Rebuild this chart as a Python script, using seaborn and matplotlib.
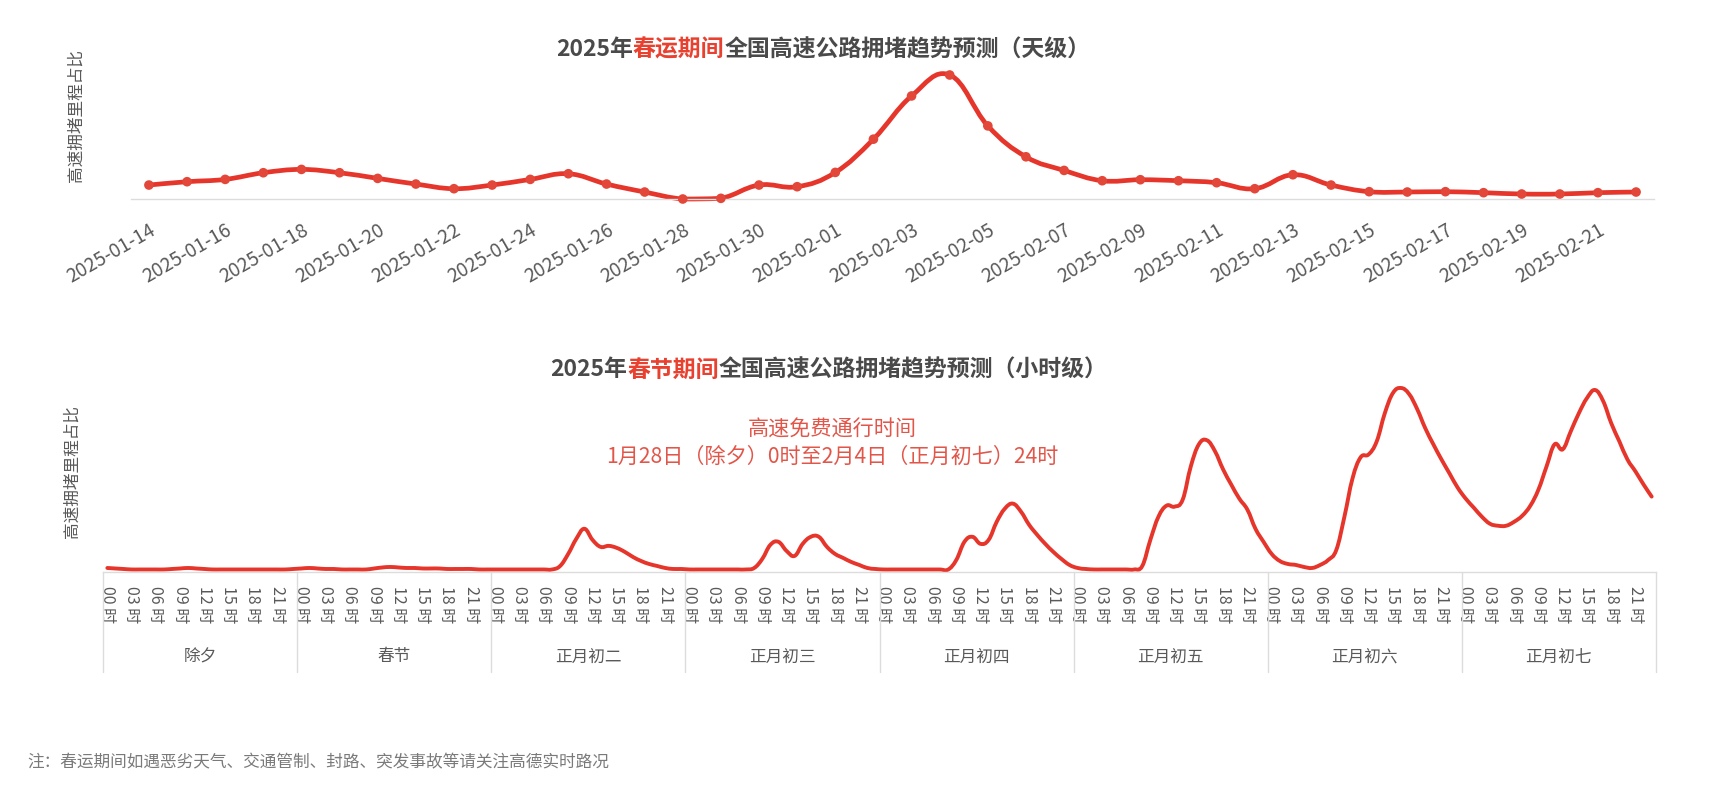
import pandas as pd
import matplotlib.pyplot as plt
import matplotlib.transforms as mtransforms
from matplotlib.path import Path
from matplotlib.patches import PathPatch
import seaborn as sns

W, H = 1716, 808
RED = '#e6352b'
GRAY = '#4a4a4a'
LABEL = '#595959'
AXIS = '#dcdcdc'

# 天级数据（高速拥堵里程占比，相对值）
dates = pd.date_range('2025-01-14', '2025-02-22').strftime('%Y-%m-%d').tolist()
daily_ratio = [4.2, 5.2, 5.9, 7.9, 8.9, 7.9, 6.2, 4.5, 3.1, 4.2,
               5.9, 7.6, 4.5, 2.1, 0.0, 0.2, 4.2, 3.7, 8.0, 18.0,
               31.0, 37.3, 22.0, 12.7, 8.6, 5.5, 5.8, 5.5, 4.9, 3.1,
               7.3, 4.2, 2.2, 2.1, 2.2, 1.9, 1.5, 1.5, 1.9, 2.1]

# 小时级数据
day_names = ['除夕', '春节', '正月初二', '正月初三', '正月初四', '正月初五', '正月初六', '正月初七']
hour_labels = ['00 时', '03 时', '06 时', '09 时', '12 时', '15 时', '18 时', '21 时']
h_chuxi = [4, 3.5, 3, 2.5, 2.5, 2.5, 2.5, 2.5, 3, 3.5, 4, 3.5,
           3, 2.5, 2.5, 2.5, 2.5, 2.5, 2.5, 2.5, 2.5, 2.5, 2.5, 3]
h_chunjie = [3.5, 4, 3.5, 3, 3, 2.5, 2.5, 2.5, 2.5, 3.5, 4.5, 5,
             4.5, 4, 4, 3.5, 3.5, 3.5, 3, 3, 3, 3, 2.5, 2.5]
h_chu2 = [2.5, 2.5, 2.5, 2.5, 2.5, 2.5, 2.5, 2.5, 6, 18, 33, 43,
          32, 25, 26, 24, 20, 15, 11, 8, 6, 4, 3, 3]
h_chu3 = [2.5, 2.5, 2.5, 2.5, 2.5, 2.5, 2.5, 2.5, 4, 13, 27, 30,
          21, 16, 28, 35, 35, 25, 18, 14, 10, 7, 4, 3]
h_chu4 = [2.5, 2.5, 2.5, 2.5, 2.5, 2.5, 2.5, 2.5, 2.5, 12, 30, 35,
          28, 32, 50, 63, 68, 60, 47, 37, 28, 20, 13, 7]
h_chu5 = [4, 3, 2.5, 2.5, 2.5, 2.5, 2.5, 2.5, 6, 32, 55, 66,
          65, 72, 105, 127, 131, 120, 102, 87, 73, 62, 43, 30]
h_chu6 = [18, 11, 8, 7, 5, 4, 7, 12, 22, 55, 93, 114,
          117, 130, 158, 178, 183, 177, 162, 143, 127, 112, 98, 84]
h_chu7 = [73, 64, 55, 48, 46, 46, 50, 56, 66, 82, 105, 127,
          122, 140, 158, 173, 181, 170, 148, 130, 112, 100, 87, 75]
hourly_ratio = h_chuxi + h_chunjie + h_chu2 + h_chu3 + h_chu4 + h_chu5 + h_chu6 + h_chu7


def smooth_path(xs, ys, k=0.2):
    # 平滑曲线（类似 echarts smooth）
    n = len(xs)
    verts = [(xs[0], ys[0])]
    codes = [Path.MOVETO]
    for i in range(n - 1):
        x0, y0 = xs[max(i - 1, 0)], ys[max(i - 1, 0)]
        x1, y1 = xs[i], ys[i]
        x2, y2 = xs[i + 1], ys[i + 1]
        x3, y3 = xs[min(i + 2, n - 1)], ys[min(i + 2, n - 1)]
        c1 = (x1 + (x2 - x0) * k, max(y1 + (y2 - y0) * k, 0))
        c2 = (x2 - (x3 - x1) * k, max(y2 - (y3 - y1) * k, 0))
        verts += [c1, c2, (x2, y2)]
        codes += [Path.CURVE4] * 3
    return Path(verts, codes)


def rich_text(fig, parts, xc, yc, size):
    r = fig.canvas.get_renderer()
    items = []
    for s, c in parts:
        t = fig.text(0, 1 - yc / H, s, color=c, fontsize=size, fontweight='bold',
                     ha='left', va='center')
        items.append((t, t.get_window_extent(renderer=r).width))
    x = xc - sum(w for _, w in items) / 2
    for t, w in items:
        t.set_x(x / W)
        x += w


sns.set_theme(style='white')
plt.rcParams['font.family'] = ['Noto Sans CJK SC', 'DejaVu Sans']

fig = plt.figure(figsize=(W / 100, H / 100), dpi=100)
fig.patch.set_facecolor('white')

# 1. 天级
ax1 = fig.add_axes([131 / W, 1 - 199 / H, (1654 - 131) / W, 124 / H])
x1 = list(range(len(daily_ratio)))
ax1.add_patch(PathPatch(smooth_path(x1, daily_ratio), fill=False, edgecolor=RED,
                        lw=3.4, capstyle='round', joinstyle='round', clip_on=False, zorder=2))
sns.scatterplot(x=x1, y=daily_ratio, ax=ax1, s=48, color='#e2473a', edgecolor='none',
                zorder=3, clip_on=False)
ax1.set_xlim(-0.47, 39.47)
ax1.set_ylim(0, 37.3)
ax1.set_xticks(x1[::2])
ax1.set_xticklabels(dates[::2], rotation=30, ha='right', rotation_mode='anchor',
                    fontsize=13.8, color=LABEL)
ax1.tick_params(axis='x', length=0, pad=15)
ax1.set_yticks([])
ax1.set_xlabel('')
ax1.set_ylabel('')
for s in ['top', 'right', 'left']:
    ax1.spines[s].set_visible(False)
ax1.spines['bottom'].set_color(AXIS)
ax1.spines['bottom'].set_linewidth(1)
ax1.set_facecolor('none')

# 2. 小时级
ax2 = fig.add_axes([103.3 / W, 1 - 572 / H, (1655.7 - 103.3) / W, 184 / H])
x2 = list(range(len(hourly_ratio)))
ax2.add_patch(PathPatch(smooth_path(x2, hourly_ratio), fill=False, edgecolor=RED,
                        lw=2.8, capstyle='round', joinstyle='round', clip_on=False, zorder=2))
ax2.set_xlim(-0.5, 191.5)
ax2.set_ylim(0, 183)
ax2.set_xticks(x2[::3])
ax2.set_xticklabels(hour_labels * len(day_names), rotation=-90, ha='center', va='top',
                    fontsize=11.5, color=LABEL)
ax2.tick_params(axis='x', length=0, pad=10)
ax2.set_yticks([])
for s in ['top', 'right', 'left']:
    ax2.spines[s].set_visible(False)
ax2.spines['bottom'].set_color(AXIS)
ax2.spines['bottom'].set_linewidth(1)
ax2.set_facecolor('none')

trans = mtransforms.blended_transform_factory(ax2.transData, ax2.transAxes)
for d in range(len(day_names) + 1):
    ax2.plot([24 * d - 0.5] * 2, [0, -(672 - 572) / 184], transform=trans,
             color=AXIS, lw=1, clip_on=False)
for d, name in enumerate(day_names):
    ax2.text(24 * d + 11.5, -(657 - 572) / 184, name, transform=trans,
             ha='center', va='center', fontsize=12, color=LABEL)

# 标题 / 注释
rich_text(fig, [('2025年', GRAY), ('春运期间', '#e8412f'),
                ('全国高速公路拥堵趋势预测（天级）', GRAY)], 823, 50, 16.5)
rich_text(fig, [('2025年', GRAY), ('春节期间', '#e8412f'),
                ('全国高速公路拥堵趋势预测（小时级）', GRAY)], 829, 370, 16.5)

fig.text(76 / W, 1 - 116 / H, '高速拥堵里程占比', rotation=90, ha='center', va='center',
         fontsize=12, color=LABEL)
fig.text(72 / W, 1 - 472 / H, '高速拥堵里程占比', rotation=90, ha='center', va='center',
         fontsize=12, color=LABEL)

fig.text(832 / W, 1 - 430 / H, '高速免费通行时间', ha='center', va='center',
         fontsize=15.2, color='#e2564a')
fig.text(832 / W, 1 - 457 / H, '1月28日（除夕）0时至2月4日（正月初七）24时', ha='center',
         va='center', fontsize=15.2, color='#e2564a')

fig.text(27 / W, 1 - 763 / H, '注：春运期间如遇恶劣天气、交通管制、封路、突发事故等请关注高德实时路况',
         ha='left', va='center', fontsize=12, color='#7a7a7a')

fig.savefig('out.png', dpi=100)
